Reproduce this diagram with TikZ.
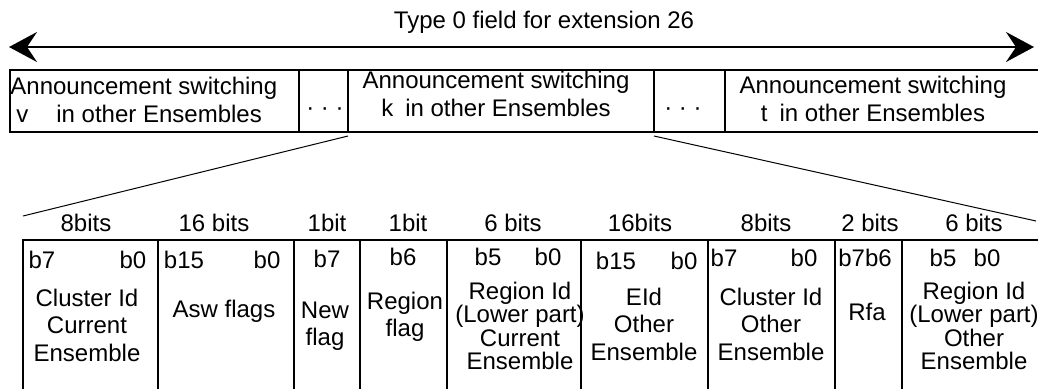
\documentclass[tikz,border=0pt]{standalone}
\usepackage{fontspec}
\setmainfont{Liberation Sans}
\usetikzlibrary{arrows.meta,positioning}

\begin{document}
\begin{tikzpicture}[x=0.5pt,y=-0.5pt,
  cell/.style={draw,line width=1pt,inner sep=0pt,outer sep=0pt},
  toprow/.style={cell,minimum height=31pt},
  botrow/.style={cell,minimum height=80pt},
  txt/.style={font=\fontsize{12}{13.75}\selectfont,inner sep=0pt,align=center},
  tight/.style={txt,font=\fontsize{12}{11.75}\selectfont},
  span/.style={{Stealth[length=14pt,width=15pt,inset=5pt]}-{Stealth[length=14pt,width=15pt,inset=5pt]},line width=1pt},
  slant/.style={line width=0.5pt}]
  \useasboundingbox (0,0) rectangle (1038,388);
  % whole field
  \node[txt] (title) at (544,22) {Type 0 field for extension 26};
  \coordinate (fl) at (9,47);
  \coordinate (fr) at (1034,47);
  \draw[span] (fl) -- (fr);
  % upper row
  \node[toprow,anchor=north west,minimum width=144.5pt] (asv) at (10,70) {};
  \node[toprow,right=0pt of asv,minimum width=24.5pt] (dotsa) {};
  \node[toprow,right=0pt of dotsa,minimum width=153pt] (ask) {};
  \node[toprow,right=0pt of ask,minimum width=35.5pt] (dotsb) {};
  \node[toprow,right=0pt of dotsb,minimum width=165pt] (ast) {};
  \node[txt,align=left,anchor=west] (asvt) at (10,100) {Announcement switching\\\mbox{}\kern3pt v\hspace{14pt}in other Ensembles};
  \node[txt] (askt) at (496,94) {Announcement switching\\k\hspace{6pt}in other Ensembles};
  \node[txt] (astt) at (873,99) {Announcement switching\\t\hspace{6pt}in other Ensembles};
  \node[txt] (dotsat) at (325,112) {· · ·};
  \node[txt] (dotsbt) at (683,112) {· · ·};
  % zoom lines
  \coordinate (zl) at (23,216);
  \coordinate (zr) at (1036,221);
  \draw[slant] ([yshift=-2pt]ask.south west) -- (zl);
  \draw[slant] ([yshift=-2pt]ask.south east) -- (zr);
  % lower row
  \node[botrow,anchor=north west,minimum width=67.5pt] (cid) at (23,240) {};
  \node[botrow,right=0pt of cid,minimum width=68pt] (asw) {};
  \node[botrow,right=0pt of asw,minimum width=33pt] (nfl) {};
  \node[botrow,right=0pt of nfl,minimum width=43.5pt] (rfl) {};
  \node[botrow,right=0pt of rfl,minimum width=67pt] (rid) {};
  \node[botrow,right=0pt of rid,minimum width=63.5pt] (eid) {};
  \node[botrow,right=0pt of eid,minimum width=63.5pt] (cido) {};
  \node[botrow,right=0pt of cido,minimum width=33.5pt] (rfa) {};
  \node[botrow,right=0pt of rfa,minimum width=71.5pt] (rido) {};
  % field sizes
  \foreach \x/\t [count=\i] in {86/8bits,214/16 bits,327/1bit,408/1bit,513/6 bits,640/16bits,766/8bits,870/2 bits,974/6 bits}
    \node[txt] (bw\i) at (\x,223) {\t};
  % bit positions
  \foreach \x/\y/\t [count=\i] in {42/260/b7,133/260/b0,184/260/b15,267/260/b0,327/259/b7,403/257/b6,488/257/b5,548/257/b0,616/261/b15,684/261/b0,724/258/b7,804/258/b0,865/258/b7b6,943/258/b5,987/258/b0}
    \node[txt] (bp\i) at (\x,\y) {\t};
  % field names
  \node[txt] (cidt) at (87,325) {Cluster Id\\Current\\Ensemble};
  \node[txt] (aswt) at (224,311) {Asw flags};
  \node[txt] (nflt) at (325,326) {New\\flag};
  \node[txt] (rflt) at (405,317) {Region\\flag};
  \node[tight] (ridt) at (520,326) {Region Id\\(Lower part)\\Current\\Ensemble};
  \node[txt] (eidt) at (644,324) {EId\\Other\\Ensemble};
  \node[txt] (cidot) at (771,324) {Cluster Id\\Other\\Ensemble};
  \node[txt] (rfat) at (867,312) {Rfa};
  \node[tight] (ridot) at (974,326) {Region Id\\(Lower part)\\Other\\Ensemble};
\end{tikzpicture}
\end{document}
